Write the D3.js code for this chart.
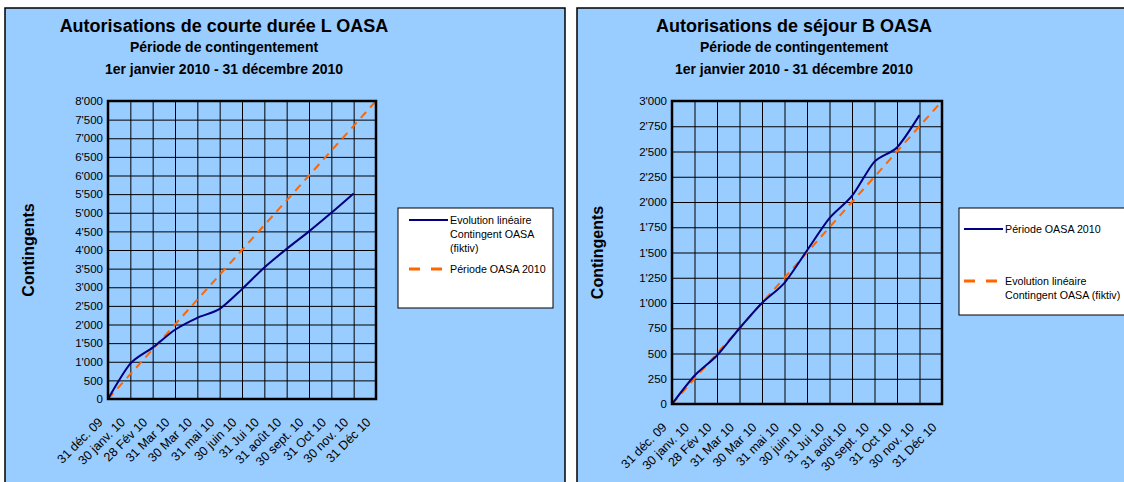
<!DOCTYPE html>
<html>
<head>
<meta charset="utf-8">
<script src="https://cdn.jsdelivr.net/npm/d3@7"></script>
<style>
    body { margin: 0; background: #fff; }
    text { font-family: Arial, "Liberation Sans", sans-serif; }
</style>
</head>
<body>
<svg id="chart" width="1124" height="482"></svg>
<script>
var categories = ["31 déc. 09", "30 janv. 10", "28 Fév 10", "31 Mar 10", "30 Mar 10", "31 mai 10",
    "30 juin 10", "31 Jui 10", "31 août 10", "30 sept. 10", "31 Oct 10", "30 nov. 10", "31 Déc 10"];

// Autorisations de courte durée L
var courteBlue = [0, 950, 1380, 1860, 2180, 2420, 2950, 3530, 4030, 4500, 5000, 5520];
var courteOrange = [0, 667, 1333, 2000, 2667, 3333, 4000, 4667, 5333, 6000, 6667, 7333, 8000];
var courteTicks = [0, 500, 1000, 1500, 2000, 2500, 3000, 3500, 4000, 4500, 5000, 5500, 6000, 6500, 7000, 7500, 8000];

// Autorisations de séjour B
var sejourBlue = [0, 280, 480, 750, 1000, 1200, 1520, 1840, 2060, 2400, 2540, 2860];
var sejourOrange = [0, 250, 500, 750, 1000, 1250, 1500, 1750, 2000, 2250, 2500, 2750, 3000];
var sejourTicks = [0, 250, 500, 750, 1000, 1250, 1500, 1750, 2000, 2250, 2500, 2750, 3000];

var fmt = d3.formatLocale({decimal: ".", thousands: "'", grouping: [3], currency: ["", ""]}).format(",");

var svg = d3.select("#chart");

function drawChart(o) {
    var g = svg.append("g");

    // chart area
    g.append("rect")
        .attr("x", o.box[0]).attr("y", o.box[1])
        .attr("width", o.box[2] - o.box[0]).attr("height", o.box[3] - o.box[1])
        .style("fill", "#99ccff").style("stroke", "#000").style("stroke-width", 1.5);

    g.append("text").attr("x", o.titleX).attr("y", 32)
        .attr("text-anchor", "middle").style("font-size", "18px").style("font-weight", "bold")
        .text(o.title);
    g.append("text").attr("x", o.titleX).attr("y", 52)
        .attr("text-anchor", "middle").style("font-size", "14px").style("font-weight", "bold")
        .text("Période de contingentement");
    g.append("text").attr("x", o.titleX).attr("y", 74)
        .attr("text-anchor", "middle").style("font-size", "14px").style("font-weight", "bold")
        .text("1er janvier 2010 - 31 décembre 2010");

    var w = o.plot[2] - o.plot[0],
        h = o.plot[3] - o.plot[1];

    var x = d3.scalePoint().domain(categories).range([0, w]);
    var y = d3.scaleLinear().domain([0, o.ticks[o.ticks.length - 1]]).range([h, 0]);

    var p = g.append("g").attr("transform", "translate(" + o.plot[0] + "," + o.plot[1] + ")");

    p.append("rect").attr("width", w).attr("height", h).style("fill", "#99ccff");

    var yAxis = p.append("g")
        .call(d3.axisLeft(y).tickValues(o.ticks).tickSize(-w).tickPadding(5).tickFormat(fmt));
    var xAxis = p.append("g").attr("transform", "translate(0," + h + ")")
        .call(d3.axisBottom(x).tickSize(-h));

    [yAxis, xAxis].forEach(function (a) {
        a.select(".domain").remove();
        a.selectAll("line").style("stroke", "#000").style("stroke-width", 1);
        a.selectAll("text").style("fill", "#000");
    });
    yAxis.selectAll("text").style("font-size", "11.5px");

    xAxis.selectAll("text")
        .style("font-size", "12.5px")
        .attr("text-anchor", "end")
        .attr("x", 0).attr("y", 0).attr("dy", null)
        .attr("transform", "translate(-5,24) rotate(-45)");

    var line = d3.line()
        .x(function (d, i) { return x(categories[i]); })
        .y(function (d) { return y(d); });

    p.append("path").datum(o.orange)
        .attr("d", line)
        .style("fill", "none").style("stroke", "#ff6600").style("stroke-width", 2)
        .style("stroke-dasharray", "8,6");

    p.append("path").datum(o.blue)
        .attr("d", line.curve(d3.curveCardinal.tension(0.2)))
        .style("fill", "none").style("stroke", "#000080").style("stroke-width", 2);

    p.append("rect").attr("width", w).attr("height", h)
        .style("fill", "none").style("stroke", "#000").style("stroke-width", 2.5);

    g.append("text")
        .attr("transform", "translate(" + o.yTitleX + "," + (o.plot[1] + h / 2) + ") rotate(-90)")
        .attr("text-anchor", "middle").style("font-size", "16px").style("font-weight", "bold")
        .text("Contingents");

    // legend
    var lg = g.append("g");
    lg.append("rect")
        .attr("x", o.legend[0]).attr("y", o.legend[1])
        .attr("width", o.legend[2] - o.legend[0]).attr("height", o.legend[3] - o.legend[1])
        .style("fill", "#fff").style("stroke", "#000").style("stroke-width", 1);

    o.items.forEach(function (it) {
        lg.append("line")
            .attr("x1", o.textX - 41).attr("x2", o.textX - 2)
            .attr("y1", it.y).attr("y2", it.y)
            .style("stroke", it.color).style("stroke-width", it.dash ? 3 : 2)
            .style("stroke-dasharray", it.dash ? "11,11" : null);
        var t = lg.append("text").attr("x", o.textX).attr("y", it.y + 4)
            .style("font-size", "10.7px");
        it.label.forEach(function (s, j) {
            t.append("tspan").attr("x", o.textX).attr("dy", j ? 14 : 0).text(s);
        });
    });
}

drawChart({
    box: [5, 8, 565, 500],
    plot: [108, 101, 376, 399],
    titleX: 224,
    yTitleX: 34,
    title: "Autorisations de courte durée L OASA",
    ticks: courteTicks,
    blue: courteBlue,
    orange: courteOrange,
    legend: [398, 208, 553, 308],
    textX: 450,
    items: [
        {y: 220, color: "#000080", label: ["Evolution linéaire", "Contingent OASA", "(fiktiv)"]},
        {y: 269, color: "#ff6600", dash: true, label: ["Période OASA 2010"]}
    ]
});

drawChart({
    box: [577, 8, 1140, 500],
    plot: [672, 101, 942, 404],
    titleX: 794,
    yTitleX: 603,
    title: "Autorisations de séjour B OASA",
    ticks: sejourTicks,
    blue: sejourBlue,
    orange: sejourOrange,
    legend: [959, 208, 1140, 315],
    textX: 1005,
    items: [
        {y: 229, color: "#000080", label: ["Période OASA 2010"]},
        {y: 281, color: "#ff6600", dash: true, label: ["Evolution linéaire", "Contingent OASA (fiktiv)"]}
    ]
});
</script>
</body>
</html>
